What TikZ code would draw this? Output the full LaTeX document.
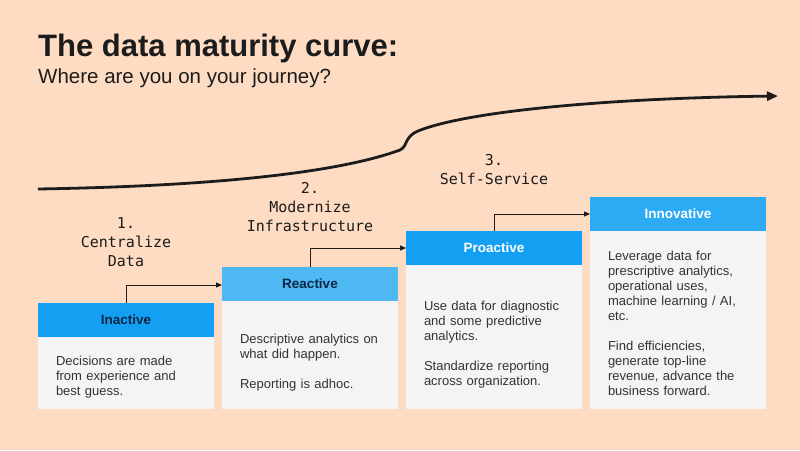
\documentclass[tikz,border=0pt]{standalone}
\usepackage{fontspec}
\setmainfont{Liberation Sans}
\setmonofont{DejaVu Sans Mono}
\usetikzlibrary{positioning,arrows.meta}
\definecolor{peach}{HTML}{FDDCC3}
\definecolor{bluehd}{HTML}{14A0F2}
\definecolor{bluelt}{HTML}{4DB8F1}
\definecolor{navy}{HTML}{0D2747}
\definecolor{cardbg}{HTML}{F4F4F6}
\definecolor{ink}{HTML}{1C1C1C}
\begin{document}
\begin{tikzpicture}[x=1pt,y=-1pt,
  head/.style={anchor=north west,minimum width=176pt,minimum height=34pt,
               inner sep=0,outer sep=0,font=\bfseries\fontsize{13.5}{15}\selectfont},
  card/.style={fill=cardbg,below=0pt of #1,text width=140pt,inner xsep=18pt,
               inner ysep=0,outer sep=0,align=left,text=ink!90,
               font=\fontsize{13}{15}\selectfont},
  stage/.style={align=center,inner sep=0,text=ink,
                font=\ttfamily\fontsize{15}{19}\selectfont},
  link/.style={draw=ink,line width=0.9pt,-{Triangle[length=6pt,width=5pt]}}]
\fill[peach] (0,0) rectangle (800,450);
\node[anchor=base west,inner sep=0,text=ink,font=\bfseries\fontsize{31}{36}\selectfont]
  (title) at (38,56) {The data maturity curve:};
\node[anchor=base west,inner sep=0,text=ink,font=\fontsize{20.5}{24}\selectfont]
  (sub) at (38,83) {Where are you on your journey?};
\draw[ink,line width=2.8pt,-{Triangle[length=11pt,width=9pt]}]
  (38,189) .. controls (220,186) and (340,172) .. (400,150)
  .. controls (408,146) and (404,137) .. (418,131)
  .. controls (470,110) and (620,98) .. (778,96);
\node[head,fill=bluehd,text=navy] (h1) at (38,303) {Inactive};
\node[head,fill=bluelt,text=navy] (h2) at (222,267) {Reactive};
\node[head,fill=bluehd,text=white] (h3) at (406,231) {Proactive};
\node[head,fill=bluehd!90!white,text=white] (h4) at (590,197) {Innovative};
\node[card=h1,minimum height=72pt] (b1) {\rule{0pt}{17pt}Decisions are made\\from experience and\\best guess.};
\node[card=h2,minimum height=108pt] (b2) {\rule{0pt}{24pt}Descriptive analytics on\\what did happen.\\[15pt]Reporting is adhoc.};
\node[card=h3,minimum height=144pt] (b3) {\rule{0pt}{24pt}Use data for diagnostic\\and some predictive\\analytics.\\[15pt]Standardize reporting\\across organization.};
\node[card=h4,minimum height=178pt] (b4) {\rule{0pt}{17pt}Leverage data for\\prescriptive analytics,\\operational uses,\\machine learning / AI,\\etc.\\[15pt]Find efficiencies,\\generate top-line\\revenue, advance the\\business forward.};
\coordinate (c1) at ([yshift=18pt]h1.north);
\coordinate (c2) at ([yshift=19pt]h2.north);
\coordinate (c3) at ([yshift=17pt]h3.north);
\draw[link] (h1.north) -- (c1) -- (c1 -| h2.west);
\draw[link] (h2.north) -- (c2) -- (c2 -| h3.west);
\draw[link] (h3.north) -- (c3) -- (c3 -| h4.west);
\node[stage,above=18pt of c1] (s1) {1.\\Centralize\\Data};
\node[stage,above=16pt of c2] (s2) {2.\\Modernize\\Infrastructure};
\node[stage,above=29pt of c3] (s3) {3.\\Self-Service};
\end{tikzpicture}
\end{document}
